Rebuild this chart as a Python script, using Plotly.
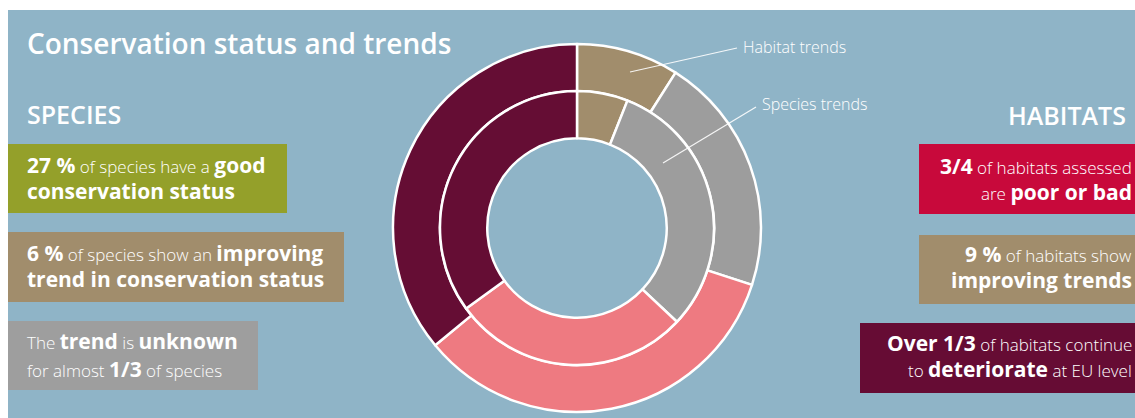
import plotly.graph_objects as go

W, H = 1135, 418

# ---------------- data ----------------
categories = ["Improving", "Unknown", "Stable", "Deteriorating"]
habitat_trends = [9, 21, 34, 36]      # outer ring (%)
species_trends = [6, 31, 28, 35]      # inner ring (%)
ring_colors = ["#A18D6C", "#9D9D9D", "#EE7A81", "#650D34"]

title_text = "Conservation status and trends"
left_header = "SPECIES"
right_header = "HABITATS"
left_boxes = [
    ["<b>27 %</b> of species have a <b>good</b>", "<b>conservation status</b>"],
    ["<b>6 %</b> of species show an <b>improving</b>", "<b>trend in conservation status</b>"],
    ["The <b>trend</b> is <b>unknown</b>", "for almost <b>1/3</b> of species"],
]
right_boxes = [
    ["<b>3/4</b> of habitats assessed", "are <b>poor or bad</b>"],
    ["<b>9 %</b> of habitats show", "<b>improving trends</b>"],
    ["<b>Over 1/3</b> of habitats continue", "to <b>deteriorate</b> at EU level"],
]
left_box_colors = ["#94A02A", "#A18D6C", "#9E9E9E"]
right_box_colors = ["#C8093B", "#A18D6C", "#660C34"]

BG = "#8FB4C7"
FONT = "Open Sans"


def px(x):
    return x / W


def py(y):
    return (H - y) / H


fig = go.Figure()

# outer ring: habitat trends
cx, cy = 577, 228
r_out = 184
fig.add_trace(go.Pie(
    values=habitat_trends, labels=categories, sort=False, direction="clockwise",
    rotation=0, hole=0.745, textinfo="none", hoverinfo="label+value",
    marker=dict(colors=ring_colors, line=dict(color="white", width=2.5)),
    domain=dict(x=[px(cx - r_out), px(cx + r_out)], y=[py(cy + r_out), py(cy - r_out)]),
    showlegend=False,
))
# inner ring: species trends
r_in = 137
fig.add_trace(go.Pie(
    values=species_trends, labels=categories, sort=False, direction="clockwise",
    rotation=0, hole=0.655, textinfo="none", hoverinfo="label+value",
    marker=dict(colors=ring_colors, line=dict(color="white", width=2.5)),
    domain=dict(x=[px(cx - r_in), px(cx + r_in)], y=[py(cy + r_in), py(cy - r_in)]),
    showlegend=False,
))

shapes = []
# white frame at top and left
shapes.append(dict(type="rect", xref="paper", yref="paper", x0=0, x1=1, y0=py(10), y1=1,
                   fillcolor="white", line=dict(width=0), layer="above"))
shapes.append(dict(type="rect", xref="paper", yref="paper", x0=0, x1=px(8), y0=0, y1=1,
                   fillcolor="white", line=dict(width=0), layer="above"))

annotations = []


def add_text(text, x, y, size, anchor="left", color="white", weight="normal"):
    annotations.append(dict(
        text=text, x=px(x), y=py(y), xref="paper", yref="paper",
        xanchor=anchor, yanchor="middle", showarrow=False,
        font=dict(family=FONT, size=size, color=color, weight=weight),
    ))


add_text(title_text, 25, 43, 28, weight=600)
add_text(left_header, 25, 114, 25, weight=600)
add_text(right_header, 1128, 115, 25, anchor="right", weight=600)


def styled(t):
    return t.replace("<b>", "<span style='font-size:21px'><b>").replace("</b>", "</b></span>")


# left boxes
left_geo = [(8, 287, 144, 213, 165, 191), (8, 344, 232, 302, 253, 279), (8, 258, 321, 390, 341, 369)]
for (x0, x1, y0, y1, l1, l2), lines, col in zip(left_geo, left_boxes, left_box_colors):
    shapes.append(dict(type="rect", xref="paper", yref="paper", x0=px(x0), x1=px(x1),
                       y0=py(y1), y1=py(y0), fillcolor=col, line=dict(width=0)))
    for t, yy in zip(lines, (l1, l2)):
        add_text(styled(t), 25, yy, 17, weight=300)

# right boxes
right_geo = [(919, 1135, 144, 214, 166, 192), (919, 1135, 235, 304, 254, 280), (860, 1135, 323, 393, 343, 369)]
for (x0, x1, y0, y1, l1, l2), lines, col in zip(right_geo, right_boxes, right_box_colors):
    shapes.append(dict(type="rect", xref="paper", yref="paper", x0=px(x0), x1=px(x1),
                       y0=py(y1), y1=py(y0), fillcolor=col, line=dict(width=0)))
    for t, yy in zip(lines, (l1, l2)):
        add_text(styled(t), 1134, yy, 17, anchor="right", weight=300)

# leader labels
add_text("Habitat trends", 741, 47, 16, weight=300)
add_text("Species trends", 760, 104, 16, weight=300)
shapes.append(dict(type="line", xref="paper", yref="paper", x0=px(630), y0=py(72),
                   x1=px(737), y1=py(48), line=dict(color="rgba(255,255,255,0.9)", width=1.2)))
shapes.append(dict(type="line", xref="paper", yref="paper", x0=px(663), y0=py(163),
                   x1=px(756), y1=py(107), line=dict(color="rgba(255,255,255,0.9)", width=1.2)))

fig.update_layout(
    width=W, height=H, margin=dict(l=0, r=0, t=0, b=0),
    paper_bgcolor=BG, plot_bgcolor=BG,
    shapes=shapes, annotations=annotations,
    font=dict(family=FONT, color="white"),
)

fig.write_html("out.html")
